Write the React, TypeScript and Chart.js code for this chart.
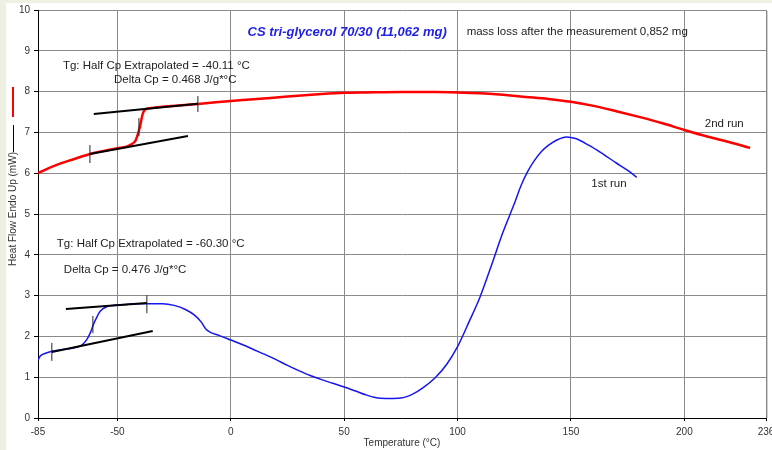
import React, { useEffect, useRef } from "react";
import { Chart, registerables } from "chart.js";

Chart.register(...registerables);

// 2nd run (red) — temperature (°C) and heat flow (mW)
const run2Temp = [-85, -80, -75, -70, -65, -60, -55, -50, -46, -44, -42, -41, -40, -39, -38, -36, -30, -20, -10, 0, 10, 25, 40, 50, 60, 75, 90, 100, 110, 120, 130, 140, 150, 160, 170, 180, 190, 200, 210, 220, 229];
const run2Flow = [6.0, 6.13, 6.24, 6.33, 6.42, 6.5, 6.56, 6.61, 6.65, 6.7, 6.8, 6.95, 7.15, 7.42, 7.55, 7.59, 7.63, 7.67, 7.72, 7.77, 7.81, 7.88, 7.94, 7.97, 7.98, 7.99, 7.99, 7.98, 7.96, 7.92, 7.87, 7.82, 7.75, 7.65, 7.52, 7.38, 7.23, 7.06, 6.9, 6.76, 6.62];

// 1st run (blue)
const run1Temp = [-85, -84, -82, -80, -75, -70, -67, -65, -63.5, -62, -60.5, -59, -57.5, -55, -52, -50, -45, -40, -35, -30, -25, -20, -16, -13, -11, -9, -5, 0, 5, 10, 15, 20, 25, 30, 35, 40, 45, 50, 55, 60, 65, 70, 75, 80, 85, 90, 95, 100, 105, 110, 115, 120, 125, 128, 131, 134, 137, 140, 144, 148, 152, 158, 163, 170, 175, 179];
const run1Flow = [1.42, 1.52, 1.58, 1.62, 1.67, 1.71, 1.75, 1.82, 1.92, 2.08, 2.3, 2.48, 2.62, 2.72, 2.76, 2.77, 2.79, 2.8, 2.8, 2.8, 2.76, 2.66, 2.52, 2.35, 2.18, 2.1, 2.02, 1.91, 1.8, 1.68, 1.56, 1.43, 1.29, 1.16, 1.04, 0.94, 0.85, 0.76, 0.66, 0.56, 0.49, 0.48, 0.49, 0.58, 0.75, 0.98, 1.3, 1.75, 2.35, 2.98, 3.75, 4.55, 5.25, 5.7, 6.05, 6.32, 6.53, 6.68, 6.82, 6.89, 6.85, 6.68, 6.51, 6.25, 6.07, 5.9];

// Glass-transition tangent lines [t1, y1, t2, y2]
const run2Tangents = [
  [-60.4, 7.45, -14.5, 7.7],
  [-62.1, 6.47, -18.9, 6.91],
];
const run1Tangents = [
  [-72.7, 2.67, -37, 2.82],
  [-78.9, 1.62, -34.4, 2.13],
];
// Onset / midpoint / end markers [t, yLow, yHigh]
const run2Markers = [
  [-62.1, 6.25, 6.69],
  [-40.5, 6.91, 7.35],
  [-14.5, 7.5, 7.89],
];
const run1Markers = [
  [-78.9, 1.4, 1.84],
  [-60.8, 2.08, 2.5],
  [-37, 2.57, 3.01],
];

const xTicks = [-85, -50, 0, 50, 100, 150, 200, 236];

const title = "CS tri-glycerol 70/30 (11,062 mg)";
const massNote = "mass loss after the measurement 0,852 mg";
// [text, temperature, heat flow] anchors for left-aligned notes
const notes: [string, number, number][] = [
  ["Tg: Half Cp Extrapolated = -40.11 °C", -74, 8.63],
  ["Delta Cp = 0.468 J/g*°C", -51.5, 8.28],
  ["Tg: Half Cp Extrapolated = -60.30 °C", -76.7, 4.26],
  ["Delta Cp = 0.476 J/g*°C", -73.6, 3.63],
  ["2nd run", 209, 7.2],
  ["1st run", 159, 5.73],
];

const FONT = "'Liberation Sans', Arial, sans-serif";

const pts = (xs: number[], ys: number[]) => xs.map((x, i) => ({ x, y: ys[i] }));

const segDataset = (x1: number, y1: number, x2: number, y2: number, width: number, color: string) => ({
  type: "line" as const,
  data: [{ x: x1, y: y1 }, { x: x2, y: y2 }],
  borderColor: color,
  borderWidth: width,
  pointRadius: 0,
  order: 0,
});

const decorPlugin = {
  id: "decor",
  beforeDraw(chart: any) {
    const { ctx, width, height } = chart;
    ctx.save();
    ctx.fillStyle = "#eef0e1";
    ctx.fillRect(0, 0, width, height);
    ctx.fillStyle = "#ffffff";
    ctx.fillRect(6, 3, width - 6, height - 3);
    ctx.restore();
  },
  afterDraw(chart: any) {
    const { ctx, chartArea } = chart;
    const xs = chart.scales.x;
    const ys = chart.scales.y;
    ctx.save();
    ctx.textBaseline = "middle";

    // soft edge along the right border of the plot
    ctx.strokeStyle = "#d0d0d0";
    ctx.lineWidth = 1;
    ctx.beginPath();
    ctx.moveTo(chartArea.right + 1.5, chartArea.top + 1);
    ctx.lineTo(chartArea.right + 1.5, chartArea.bottom);
    ctx.stroke();

    // heading
    ctx.fillStyle = "#1f1fe6";
    ctx.font = `italic bold 13px ${FONT}`;
    ctx.textAlign = "center";
    ctx.fillText(title, xs.getPixelForValue(51.3), ys.getPixelForValue(9.46));

    ctx.fillStyle = "#222";
    ctx.font = `11.5px ${FONT}`;
    ctx.textAlign = "left";
    ctx.fillText(massNote, xs.getPixelForValue(104), ys.getPixelForValue(9.46));

    for (const [t, x, y] of notes) {
      ctx.fillText(t, xs.getPixelForValue(x), ys.getPixelForValue(y));
    }

    // x axis title
    ctx.font = `10px ${FONT}`;
    ctx.fillStyle = "#333";
    ctx.textAlign = "center";
    ctx.fillText("Temperature (°C)", (chartArea.left + chartArea.right) / 2, 443);

    // y axis title with series keys
    ctx.save();
    ctx.translate(13, 209);
    ctx.rotate(-Math.PI / 2);
    ctx.fillText("Heat Flow Endo Up (mW)", 0, 0);
    ctx.restore();
    ctx.strokeStyle = "#000";
    ctx.lineWidth = 1;
    ctx.beginPath();
    ctx.moveTo(13.5, 125);
    ctx.lineTo(13.5, 152);
    ctx.stroke();
    ctx.strokeStyle = "#ff0000";
    ctx.lineWidth = 2;
    ctx.beginPath();
    ctx.moveTo(13, 87);
    ctx.lineTo(13, 117);
    ctx.stroke();
    ctx.restore();
  },
};

export default function App() {
  const ref = useRef<HTMLCanvasElement>(null);

  useEffect(() => {
    if (!ref.current) return;
    const datasets: any[] = [
      {
        type: "line",
        label: "2nd run",
        data: pts(run2Temp, run2Flow),
        borderColor: "#ff0000",
        borderWidth: 2.5,
        pointRadius: 0,
        cubicInterpolationMode: "monotone",
        order: 1,
      },
      {
        type: "line",
        label: "1st run",
        data: pts(run1Temp, run1Flow),
        borderColor: "#1515f0",
        borderWidth: 1.5,
        pointRadius: 0,
        cubicInterpolationMode: "monotone",
        order: 1,
      },
    ];
    for (const [a, b, c, d] of [...run2Tangents, ...run1Tangents]) {
      datasets.push(segDataset(a, b, c, d, 2, "#000"));
    }
    for (const [t, lo, hi] of [...run2Markers, ...run1Markers]) {
      datasets.push(segDataset(t, lo, t, hi, 1, "#222"));
    }

    const chart = new Chart(ref.current, {
      type: "line",
      data: { datasets },
      options: {
        animation: false,
        responsive: false,
        devicePixelRatio: 1,
        layout: { padding: { left: 0, top: 10, right: 6, bottom: 0 }, autoPadding: false },
        plugins: { legend: { display: false }, tooltip: { enabled: false } },
        scales: {
          x: {
            type: "linear",
            min: -85,
            max: 236,
            afterFit: (s: any) => {
              s.height = 32;
              s.paddingLeft = 0;
              s.paddingRight = 0;
            },
            afterBuildTicks: (s: any) => {
              s.ticks = xTicks.map((v) => ({ value: v }));
            },
            grid: { color: "#8a8a8a", tickColor: "#000", tickLength: 3 },
            border: { color: "#000", width: 1 },
            ticks: {
              color: "#333",
              font: { size: 10, family: FONT },
              padding: 5,
              maxRotation: 0,
              autoSkip: false,
            },
          },
          y: {
            type: "linear",
            min: 0,
            max: 10,
            afterFit: (s: any) => {
              s.width = 38;
              s.paddingTop = 0;
              s.paddingBottom = 0;
            },
            grid: { color: "#8a8a8a", tickColor: "#000", tickLength: 4 },
            border: { color: "#000", width: 1 },
            ticks: {
              stepSize: 1,
              color: "#333",
              font: { size: 10, family: FONT },
              padding: 4,
            },
          },
        },
      },
      plugins: [decorPlugin],
    });
    return () => chart.destroy();
  }, []);

  return (
    <div style={{ position: "fixed", left: 0, top: 0, width: 772, height: 450 }}>
      <canvas ref={ref} width={772} height={450} style={{ display: "block", width: 772, height: 450 }} />
    </div>
  );
}
